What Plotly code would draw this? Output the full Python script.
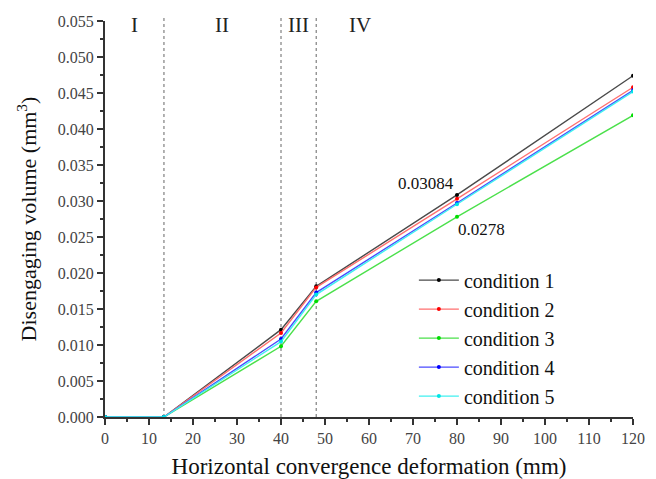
import plotly.graph_objects as go

# Horizontal convergence deformation (mm) at the sampled stages
deformation = [0, 13.4, 40, 48, 80, 120]

# Disengaging volume (mm^3) for each working condition
condition_1 = [0.0, 0.0, 0.01213, 0.01815, 0.03084, 0.04740]
condition_2 = [0.0, 0.0, 0.01167, 0.01800, 0.03030, 0.04580]
condition_3 = [0.0, 0.0, 0.00982, 0.01607, 0.02780, 0.04190]
condition_4 = [0.0, 0.0, 0.01083, 0.01728, 0.02972, 0.04537]
condition_5 = [0.0, 0.0, 0.01047, 0.01700, 0.02955, 0.04520]

series_names = ["condition 1", "condition 2", "condition 3", "condition 4", "condition 5"]
series_values = [condition_1, condition_2, condition_3, condition_4, condition_5]
line_colors = ["#4a4a4a", "#ff6f6f", "#4be04b", "#4a4aff", "#40f0f0"]
marker_colors = ["#000000", "#ff0000", "#00dd00", "#0000ff", "#00e5e5"]

# Stage boundaries and stage labels
stage_bounds = [13.4, 40, 48]
stage_labels = ["I", "II", "III", "IV"]
stage_label_x = [6.8, 26.5, 44.0, 58.0]

# Highlighted values at 80 mm
note_text = ["0.03084", "0.0278"]
note_series = [0, 2]
note_x = [73.0, 85.5]
note_y_offset = [0.0016, -0.0017]

serif = "Liberation Serif"

fig = go.Figure()
for name, vals, lc, mc in zip(series_names, series_values, line_colors, marker_colors):
    fig.add_trace(go.Scatter(
        x=deformation, y=vals, name=name, mode="lines+markers",
        line=dict(color=lc, width=1.4),
        marker=dict(color=mc, size=4),
    ))

for xb in stage_bounds:
    fig.add_shape(type="line", xref="x", yref="paper", x0=xb, x1=xb, y0=0, y1=1.015,
                  line=dict(color="#666666", width=1, dash="dot"), layer="below")

for lab, lx in zip(stage_labels, stage_label_x):
    fig.add_annotation(x=lx, y=1.0, xref="x", yref="paper", text=lab, showarrow=False,
                       yanchor="middle", yshift=-4, font=dict(family=serif, size=21, color="#222"))

for txt, si, nx, dy in zip(note_text, note_series, note_x, note_y_offset):
    fig.add_annotation(x=nx, y=series_values[si][4] + dy, xref="x", yref="y", text=txt,
                       showarrow=False, font=dict(family=serif, size=17, color="#111"))

fig.update_layout(
    width=656, height=479,
    margin=dict(l=105, r=23, t=21, b=62),
    plot_bgcolor="white", paper_bgcolor="white",
    font=dict(family=serif, color="#222"),
    legend=dict(x=0.585, y=0.395, xanchor="left", yanchor="top",
                font=dict(family=serif, size=20, color="#111"),
                bgcolor="rgba(0,0,0,0)", tracegroupgap=0, itemwidth=40),
    showlegend=True,
)

fig.update_xaxes(
    range=[0, 120], tickmode="linear", tick0=0, dtick=10, automargin=False,
    showline=True, linecolor="#333", linewidth=2, mirror=False,
    ticks="outside", ticklen=6, tickwidth=2, tickcolor="#333",
    minor=dict(ticks="outside", ticklen=3, tickwidth=2, tickcolor="#333", dtick=5),
    showgrid=False, zeroline=False,
    tickfont=dict(family=serif, size=16, color="#444"),
    title=dict(text="Horizontal convergence deformation (mm)",
               font=dict(family=serif, size=23, color="#111")),
)
fig.update_yaxes(
    range=[0, 0.055], tickmode="linear", tick0=0, dtick=0.005, tickformat=".3f", automargin=False,
    showline=True, linecolor="#333", linewidth=2, mirror=False,
    ticks="outside", ticklen=6, tickwidth=2, tickcolor="#333",
    minor=dict(ticks="outside", ticklen=3, tickwidth=2, tickcolor="#333", dtick=0.0025),
    showgrid=False, zeroline=False,
    tickfont=dict(family=serif, size=16, color="#444"),
    title=dict(text="Disengaging volume (mm<sup>3</sup>)",
               font=dict(family=serif, size=22, color="#111")),
)

fig.write_html("out.html")
